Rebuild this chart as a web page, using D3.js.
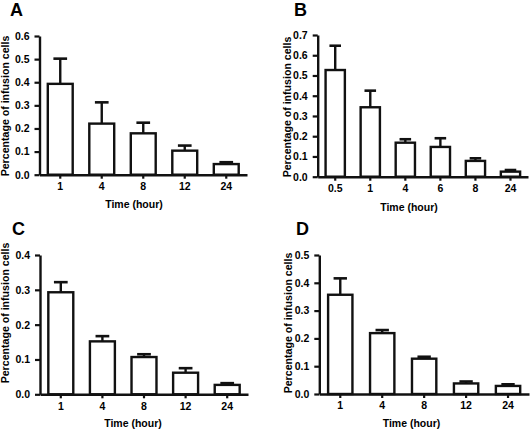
<!DOCTYPE html>
<html><head><meta charset="utf-8">
<script src="https://cdn.jsdelivr.net/npm/d3@7"></script>
<style>
body{margin:0;background:#fff;}
svg{display:block;}
text{font-family:"Liberation Sans",Arial,sans-serif;font-weight:bold;fill:#000;}
</style></head>
<body>
<svg id="c" width="531" height="431"></svg>
<script>
// Panel A
const catsA = ["1","4","8","12","24"];
const valsA = [0.393,0.221,0.179,0.104,0.046];
const errA  = [0.109,0.092,0.046,0.022,0.008];
const ticksA = [0,0.1,0.2,0.3,0.4,0.5,0.6];
// Panel B
const catsB = ["0.5","1","4","6","8","24"];
const valsB = [0.527,0.343,0.168,0.147,0.078,0.025];
const errB  = [0.120,0.082,0.017,0.043,0.013,0.008];
const ticksB = [0,0.1,0.2,0.3,0.4,0.5,0.6,0.7];
// Panel C
const catsC = ["1","4","8","12","24"];
const valsC = [0.293,0.152,0.107,0.062,0.027];
const errC  = [0.029,0.015,0.008,0.013,0.005];
const ticksC = [0,0.1,0.2,0.3,0.4];
// Panel D
const catsD = ["1","4","8","12","24"];
const valsD = [0.357,0.219,0.127,0.038,0.029];
const errD  = [0.059,0.011,0.007,0.007,0.006];
const ticksD = [0,0.1,0.2,0.3,0.4,0.5];

const yTitle = "Percentage of infusion cells";
const xTitle = "Time (hour)";

const svg = d3.select("#c");

function panel(o){
  const g = svg.append("g");
  const x = d3.scaleBand().domain(o.cats).range([o.x0,o.x1]).paddingInner(o.pad).paddingOuter(o.pad/2);
  const y = d3.scaleLinear().domain([0,o.ticks[o.ticks.length-1]]).range([o.y0,o.yTop]);
  // bars
  g.selectAll("rect.bar").data(o.vals).enter().append("rect")
    .attr("x",(d,i)=>x(o.cats[i]))
    .attr("y",d=>y(d))
    .attr("width",x.bandwidth())
    .attr("height",d=>o.y0-y(d))
    .attr("fill","#fff").attr("stroke","#111").attr("stroke-width",2.4);
  // error bars
  const cap = x.bandwidth()*o.cap;
  o.vals.forEach((v,i)=>{
    const cx = x(o.cats[i])+x.bandwidth()/2;
    g.append("line").attr("x1",cx).attr("x2",cx).attr("y1",y(v)).attr("y2",y(v+o.err[i]))
      .attr("stroke","#111").attr("stroke-width",2.4);
    g.append("line").attr("x1",cx-cap/2).attr("x2",cx+cap/2).attr("y1",y(v+o.err[i])).attr("y2",y(v+o.err[i]))
      .attr("stroke","#111").attr("stroke-width",2.6);
  });
  // y axis
  const ya = g.append("g").attr("transform",`translate(${o.x0},0)`)
    .call(d3.axisLeft(y).tickValues(o.ticks).tickFormat(d3.format(".1f")).tickSize(5).tickPadding(5).tickSizeOuter(0));
  ya.select(".domain").attr("stroke","#111").attr("stroke-width",2.4);
  ya.selectAll(".tick line").attr("stroke","#111").attr("stroke-width",2.2);
  ya.selectAll(".tick text").style("font-size","10.5px");
  // x axis
  const xa = g.append("g").attr("transform",`translate(0,${o.y0})`)
    .call(d3.axisBottom(x).tickSize(4).tickPadding(4).tickSizeOuter(0));
  xa.select(".domain").attr("stroke","#111").attr("stroke-width",2.4);
  xa.selectAll(".tick line").attr("stroke","#111").attr("stroke-width",2.2);
  xa.selectAll(".tick text").style("font-size","10.5px");
  // titles
  g.append("text").attr("x",o.lx).attr("y",o.ly).style("font-size","18px").text(o.label);
  g.append("text").attr("transform",`translate(${o.ytx},${o.yty}) rotate(-90)`)
    .attr("text-anchor","middle").style("font-size","10.6px").text(yTitle);
  g.append("text").attr("x",o.xtx).attr("y",o.xty).attr("text-anchor","middle")
    .style("font-size","10.5px").text(xTitle);
}

panel({cats:catsA,vals:valsA,err:errA,ticks:ticksA,x0:39.5,x1:247,y0:174.7,yTop:36,pad:0.4,cap:0.55,
  label:"A",lx:10,ly:15.5,ytx:9,yty:106,xtx:134,xty:207.5});
panel({cats:catsB,vals:valsB,err:errB,ticks:ticksB,x0:317.7,x1:528,y0:176.7,yTop:35,pad:0.45,cap:0.6,
  label:"B",lx:294,ly:15.5,ytx:291,yty:107,xtx:409,xty:210.5});
panel({cats:catsC,vals:valsC,err:errC,ticks:ticksC,x0:40,x1:248,y0:394.3,yTop:255,pad:0.4,cap:0.55,
  label:"C",lx:12,ly:235,ytx:9,yty:313,xtx:133,xty:427});
panel({cats:catsD,vals:valsD,err:errD,ticks:ticksD,x0:319.3,x1:529,y0:394,yTop:255,pad:0.42,cap:0.55,
  label:"D",lx:296,ly:234.5,ytx:292,yty:323,xtx:411.5,xty:427});
</script>
</body></html>
